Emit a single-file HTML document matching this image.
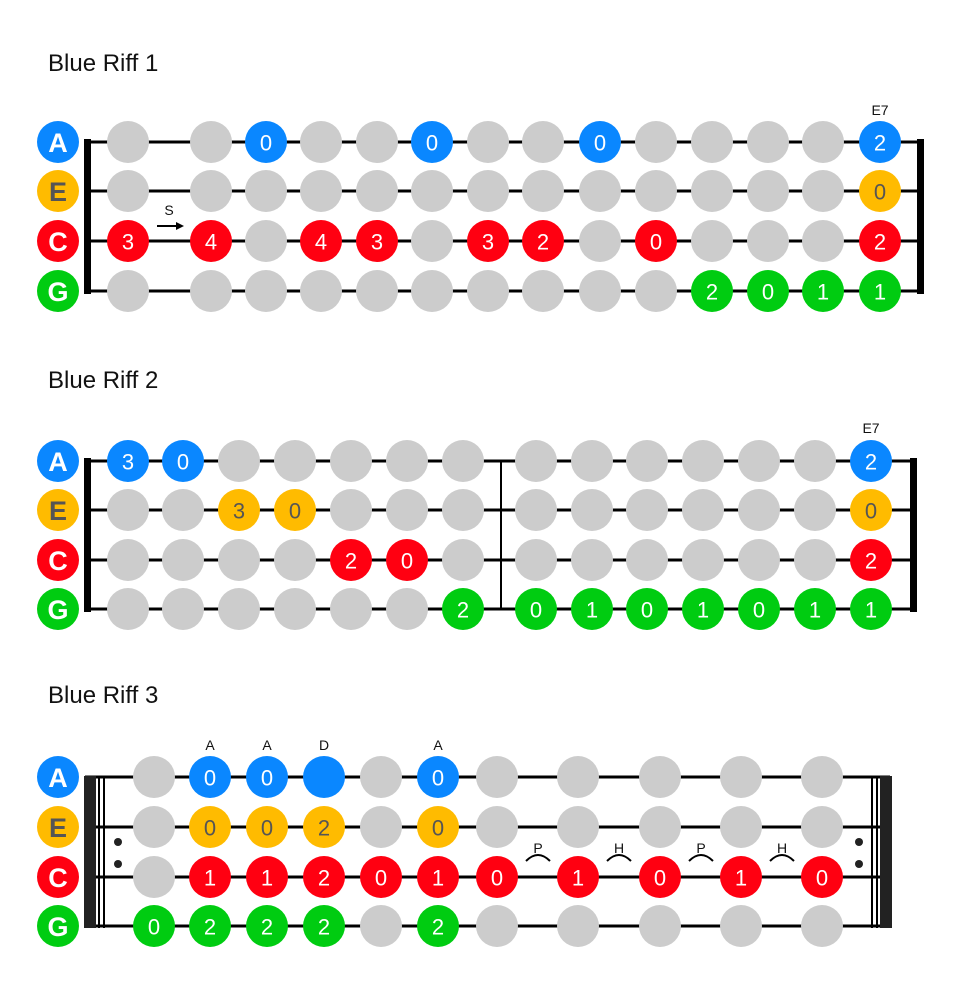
<!DOCTYPE html>
<html><head><meta charset="utf-8"><style>
html,body{margin:0;padding:0;background:#fff;}
svg{display:block}
.t{font-family:"Liberation Sans",sans-serif;font-size:24px;fill:#111}
.l{font-family:"Liberation Sans",sans-serif;font-size:27px;font-weight:bold;fill:#fff;text-anchor:middle;dominant-baseline:central}
.n{font-family:"Liberation Sans",sans-serif;font-size:22px;fill:#fff;text-anchor:middle;dominant-baseline:central}
.ny{font-family:"Liberation Sans",sans-serif;font-size:22px;fill:#555;text-anchor:middle;dominant-baseline:central}
.s{font-family:"Liberation Sans",sans-serif;font-size:14px;fill:#111;text-anchor:middle}
.g{fill:#cccccc}.b{fill:#0a87ff}.y{fill:#ffbb00}.r{fill:#ff0011}.gr{fill:#00cc11}
</style></head><body>
<svg width="962" height="988" viewBox="0 0 962 988" xmlns="http://www.w3.org/2000/svg">
<!-- ===== RIFF 1 ===== -->
<text class="t" x="48" y="71">Blue Riff 1</text>
<g stroke="#000" stroke-width="3">
<line x1="88" y1="142" x2="920" y2="142"/><line x1="88" y1="191" x2="920" y2="191"/>
<line x1="88" y1="241" x2="920" y2="241"/><line x1="88" y1="291" x2="920" y2="291"/>
</g>
<rect x="84" y="139" width="7" height="155" fill="#000"/>
<rect x="917" y="139" width="7" height="155" fill="#000"/>
<circle cx="58" cy="142" r="21" class="b"/><text class="l" x="58" y="143">A</text>
<circle cx="58" cy="191" r="21" class="y"/><text class="l" x="58" y="192" style="fill:#555">E</text>
<circle cx="58" cy="241" r="21" class="r"/><text class="l" x="58" y="242">C</text>
<circle cx="58" cy="291" r="21" class="gr"/><text class="l" x="58" y="292">G</text>
<g>
<!-- A -->
<circle cx="128" cy="142" r="21" class="g"/><circle cx="211" cy="142" r="21" class="g"/>
<circle cx="266" cy="142" r="21" class="b"/><circle cx="321" cy="142" r="21" class="g"/>
<circle cx="377" cy="142" r="21" class="g"/><circle cx="432" cy="142" r="21" class="b"/>
<circle cx="488" cy="142" r="21" class="g"/><circle cx="543" cy="142" r="21" class="g"/>
<circle cx="600" cy="142" r="21" class="b"/><circle cx="656" cy="142" r="21" class="g"/>
<circle cx="712" cy="142" r="21" class="g"/><circle cx="768" cy="142" r="21" class="g"/>
<circle cx="823" cy="142" r="21" class="g"/><circle cx="880" cy="142" r="21" class="b"/>
<text class="n" x="266" y="143">0</text><text class="n" x="432" y="143">0</text><text class="n" x="600" y="143">0</text><text class="n" x="880" y="143">2</text>
<text class="s" x="880" y="115">E7</text>
<!-- E -->
<circle cx="128" cy="191" r="21" class="g"/><circle cx="211" cy="191" r="21" class="g"/>
<circle cx="266" cy="191" r="21" class="g"/><circle cx="321" cy="191" r="21" class="g"/>
<circle cx="377" cy="191" r="21" class="g"/><circle cx="432" cy="191" r="21" class="g"/>
<circle cx="488" cy="191" r="21" class="g"/><circle cx="543" cy="191" r="21" class="g"/>
<circle cx="600" cy="191" r="21" class="g"/><circle cx="656" cy="191" r="21" class="g"/>
<circle cx="712" cy="191" r="21" class="g"/><circle cx="768" cy="191" r="21" class="g"/>
<circle cx="823" cy="191" r="21" class="g"/><circle cx="880" cy="191" r="21" class="y"/>
<text class="ny" x="880" y="192">0</text>
<!-- C -->
<circle cx="128" cy="241" r="21" class="r"/><circle cx="211" cy="241" r="21" class="r"/>
<circle cx="266" cy="241" r="21" class="g"/><circle cx="321" cy="241" r="21" class="r"/>
<circle cx="377" cy="241" r="21" class="r"/><circle cx="432" cy="241" r="21" class="g"/>
<circle cx="488" cy="241" r="21" class="r"/><circle cx="543" cy="241" r="21" class="r"/>
<circle cx="600" cy="241" r="21" class="g"/><circle cx="656" cy="241" r="21" class="r"/>
<circle cx="712" cy="241" r="21" class="g"/><circle cx="768" cy="241" r="21" class="g"/>
<circle cx="823" cy="241" r="21" class="g"/><circle cx="880" cy="241" r="21" class="r"/>
<text class="n" x="128" y="242">3</text><text class="n" x="211" y="242">4</text><text class="n" x="321" y="242">4</text><text class="n" x="377" y="242">3</text>
<text class="n" x="488" y="242">3</text><text class="n" x="543" y="242">2</text><text class="n" x="656" y="242">0</text><text class="n" x="880" y="242">2</text>
<text class="s" x="169" y="215">S</text>
<line x1="157" y1="226" x2="177" y2="226" stroke="#000" stroke-width="2"/>
<polygon points="184,226 176,222 176,230" fill="#000"/>
<!-- G -->
<circle cx="128" cy="291" r="21" class="g"/><circle cx="211" cy="291" r="21" class="g"/>
<circle cx="266" cy="291" r="21" class="g"/><circle cx="321" cy="291" r="21" class="g"/>
<circle cx="377" cy="291" r="21" class="g"/><circle cx="432" cy="291" r="21" class="g"/>
<circle cx="488" cy="291" r="21" class="g"/><circle cx="543" cy="291" r="21" class="g"/>
<circle cx="600" cy="291" r="21" class="g"/><circle cx="656" cy="291" r="21" class="g"/>
<circle cx="712" cy="291" r="21" class="gr"/><circle cx="768" cy="291" r="21" class="gr"/>
<circle cx="823" cy="291" r="21" class="gr"/><circle cx="880" cy="291" r="21" class="gr"/>
<text class="n" x="712" y="292">2</text><text class="n" x="768" y="292">0</text><text class="n" x="823" y="292">1</text><text class="n" x="880" y="292">1</text>
</g>

<!-- ===== RIFF 2 ===== -->
<text class="t" x="48" y="388">Blue Riff 2</text>
<g stroke="#000" stroke-width="3">
<line x1="88" y1="461" x2="913" y2="461"/><line x1="88" y1="510" x2="913" y2="510"/>
<line x1="88" y1="560" x2="913" y2="560"/><line x1="88" y1="609" x2="913" y2="609"/>
</g>
<line x1="501" y1="461" x2="501" y2="609" stroke="#000" stroke-width="2"/>
<rect x="84" y="458" width="7" height="154" fill="#000"/>
<rect x="910" y="458" width="7" height="154" fill="#000"/>
<circle cx="58" cy="461" r="21" class="b"/><text class="l" x="58" y="462">A</text>
<circle cx="58" cy="510" r="21" class="y"/><text class="l" x="58" y="511" style="fill:#555">E</text>
<circle cx="58" cy="560" r="21" class="r"/><text class="l" x="58" y="561">C</text>
<circle cx="58" cy="609" r="21" class="gr"/><text class="l" x="58" y="610">G</text>
<!-- A -->
<circle cx="128" cy="461" r="21" class="b"/><circle cx="183" cy="461" r="21" class="b"/>
<circle cx="239" cy="461" r="21" class="g"/><circle cx="295" cy="461" r="21" class="g"/>
<circle cx="351" cy="461" r="21" class="g"/><circle cx="407" cy="461" r="21" class="g"/>
<circle cx="463" cy="461" r="21" class="g"/><circle cx="536" cy="461" r="21" class="g"/>
<circle cx="592" cy="461" r="21" class="g"/><circle cx="647" cy="461" r="21" class="g"/>
<circle cx="703" cy="461" r="21" class="g"/><circle cx="759" cy="461" r="21" class="g"/>
<circle cx="815" cy="461" r="21" class="g"/><circle cx="871" cy="461" r="21" class="b"/>
<text class="n" x="128" y="462">3</text><text class="n" x="183" y="462">0</text><text class="n" x="871" y="462">2</text>
<text class="s" x="871" y="433">E7</text>
<!-- E -->
<circle cx="128" cy="510" r="21" class="g"/><circle cx="183" cy="510" r="21" class="g"/>
<circle cx="239" cy="510" r="21" class="y"/><circle cx="295" cy="510" r="21" class="y"/>
<circle cx="351" cy="510" r="21" class="g"/><circle cx="407" cy="510" r="21" class="g"/>
<circle cx="463" cy="510" r="21" class="g"/><circle cx="536" cy="510" r="21" class="g"/>
<circle cx="592" cy="510" r="21" class="g"/><circle cx="647" cy="510" r="21" class="g"/>
<circle cx="703" cy="510" r="21" class="g"/><circle cx="759" cy="510" r="21" class="g"/>
<circle cx="815" cy="510" r="21" class="g"/><circle cx="871" cy="510" r="21" class="y"/>
<text class="ny" x="239" y="511">3</text><text class="ny" x="295" y="511">0</text><text class="ny" x="871" y="511">0</text>
<!-- C -->
<circle cx="128" cy="560" r="21" class="g"/><circle cx="183" cy="560" r="21" class="g"/>
<circle cx="239" cy="560" r="21" class="g"/><circle cx="295" cy="560" r="21" class="g"/>
<circle cx="351" cy="560" r="21" class="r"/><circle cx="407" cy="560" r="21" class="r"/>
<circle cx="463" cy="560" r="21" class="g"/><circle cx="536" cy="560" r="21" class="g"/>
<circle cx="592" cy="560" r="21" class="g"/><circle cx="647" cy="560" r="21" class="g"/>
<circle cx="703" cy="560" r="21" class="g"/><circle cx="759" cy="560" r="21" class="g"/>
<circle cx="815" cy="560" r="21" class="g"/><circle cx="871" cy="560" r="21" class="r"/>
<text class="n" x="351" y="561">2</text><text class="n" x="407" y="561">0</text><text class="n" x="871" y="561">2</text>
<!-- G -->
<circle cx="128" cy="609" r="21" class="g"/><circle cx="183" cy="609" r="21" class="g"/>
<circle cx="239" cy="609" r="21" class="g"/><circle cx="295" cy="609" r="21" class="g"/>
<circle cx="351" cy="609" r="21" class="g"/><circle cx="407" cy="609" r="21" class="g"/>
<circle cx="463" cy="609" r="21" class="gr"/><circle cx="536" cy="609" r="21" class="gr"/>
<circle cx="592" cy="609" r="21" class="gr"/><circle cx="647" cy="609" r="21" class="gr"/>
<circle cx="703" cy="609" r="21" class="gr"/><circle cx="759" cy="609" r="21" class="gr"/>
<circle cx="815" cy="609" r="21" class="gr"/><circle cx="871" cy="609" r="21" class="gr"/>
<text class="n" x="463" y="610">2</text><text class="n" x="536" y="610">0</text><text class="n" x="592" y="610">1</text><text class="n" x="647" y="610">0</text>
<text class="n" x="703" y="610">1</text><text class="n" x="759" y="610">0</text><text class="n" x="815" y="610">1</text><text class="n" x="871" y="610">1</text>

<!-- ===== RIFF 3 ===== -->
<text class="t" x="48" y="703">Blue Riff 3</text>
<g stroke="#000" stroke-width="3">
<line x1="85" y1="777" x2="890" y2="777"/><line x1="85" y1="827" x2="890" y2="827"/>
<line x1="85" y1="877" x2="890" y2="877"/><line x1="85" y1="926" x2="890" y2="926"/>
</g>
<rect x="84" y="776" width="12" height="152" fill="#222"/>
<rect x="98" y="776" width="2" height="152" fill="#000"/>
<rect x="103" y="776" width="2" height="152" fill="#000"/>
<circle cx="118" cy="842" r="4" fill="#222"/><circle cx="118" cy="864" r="4" fill="#222"/>
<rect x="880" y="776" width="12" height="152" fill="#222"/>
<rect x="876" y="776" width="2" height="152" fill="#000"/>
<rect x="871" y="776" width="2" height="152" fill="#000"/>
<circle cx="859" cy="842" r="4" fill="#222"/><circle cx="859" cy="864" r="4" fill="#222"/>
<circle cx="58" cy="777" r="21" class="b"/><text class="l" x="58" y="778">A</text>
<circle cx="58" cy="827" r="21" class="y"/><text class="l" x="58" y="828" style="fill:#555">E</text>
<circle cx="58" cy="877" r="21" class="r"/><text class="l" x="58" y="878">C</text>
<circle cx="58" cy="926" r="21" class="gr"/><text class="l" x="58" y="927">G</text>
<!-- A -->
<circle cx="154" cy="777" r="21" class="g"/><circle cx="210" cy="777" r="21" class="b"/>
<circle cx="267" cy="777" r="21" class="b"/><circle cx="324" cy="777" r="21" class="b"/>
<circle cx="381" cy="777" r="21" class="g"/><circle cx="438" cy="777" r="21" class="b"/>
<circle cx="497" cy="777" r="21" class="g"/><circle cx="578" cy="777" r="21" class="g"/>
<circle cx="660" cy="777" r="21" class="g"/><circle cx="741" cy="777" r="21" class="g"/>
<circle cx="822" cy="777" r="21" class="g"/>
<text class="n" x="210" y="778">0</text><text class="n" x="267" y="778">0</text><text class="n" x="438" y="778">0</text>
<text class="s" x="210" y="750">A</text><text class="s" x="267" y="750">A</text><text class="s" x="324" y="750">D</text><text class="s" x="438" y="750">A</text>
<!-- E -->
<circle cx="154" cy="827" r="21" class="g"/><circle cx="210" cy="827" r="21" class="y"/>
<circle cx="267" cy="827" r="21" class="y"/><circle cx="324" cy="827" r="21" class="y"/>
<circle cx="381" cy="827" r="21" class="g"/><circle cx="438" cy="827" r="21" class="y"/>
<circle cx="497" cy="827" r="21" class="g"/><circle cx="578" cy="827" r="21" class="g"/>
<circle cx="660" cy="827" r="21" class="g"/><circle cx="741" cy="827" r="21" class="g"/>
<circle cx="822" cy="827" r="21" class="g"/>
<text class="ny" x="210" y="828">0</text><text class="ny" x="267" y="828">0</text><text class="ny" x="324" y="828">2</text><text class="ny" x="438" y="828">0</text>
<!-- C -->
<circle cx="154" cy="877" r="21" class="g"/><circle cx="210" cy="877" r="21" class="r"/>
<circle cx="267" cy="877" r="21" class="r"/><circle cx="324" cy="877" r="21" class="r"/>
<circle cx="381" cy="877" r="21" class="r"/><circle cx="438" cy="877" r="21" class="r"/>
<circle cx="497" cy="877" r="21" class="r"/><circle cx="578" cy="877" r="21" class="r"/>
<circle cx="660" cy="877" r="21" class="r"/><circle cx="741" cy="877" r="21" class="r"/>
<circle cx="822" cy="877" r="21" class="r"/>
<text class="n" x="210" y="878">1</text><text class="n" x="267" y="878">1</text><text class="n" x="324" y="878">2</text><text class="n" x="381" y="878">0</text>
<text class="n" x="438" y="878">1</text><text class="n" x="497" y="878">0</text><text class="n" x="578" y="878">1</text><text class="n" x="660" y="878">0</text>
<text class="n" x="741" y="878">1</text><text class="n" x="822" y="878">0</text>
<g fill="none" stroke="#000" stroke-width="2">
<path d="M526,861 Q538,849 550,861"/><path d="M607,861 Q619,849 631,861"/>
<path d="M689,861 Q701,849 713,861"/><path d="M770,861 Q782,849 794,861"/>
</g>
<text class="s" x="538" y="853">P</text><text class="s" x="619" y="853">H</text>
<text class="s" x="701" y="853">P</text><text class="s" x="782" y="853">H</text>
<!-- G -->
<circle cx="154" cy="926" r="21" class="gr"/><circle cx="210" cy="926" r="21" class="gr"/>
<circle cx="267" cy="926" r="21" class="gr"/><circle cx="324" cy="926" r="21" class="gr"/>
<circle cx="381" cy="926" r="21" class="g"/><circle cx="438" cy="926" r="21" class="gr"/>
<circle cx="497" cy="926" r="21" class="g"/><circle cx="578" cy="926" r="21" class="g"/>
<circle cx="660" cy="926" r="21" class="g"/><circle cx="741" cy="926" r="21" class="g"/>
<circle cx="822" cy="926" r="21" class="g"/>
<text class="n" x="154" y="927">0</text><text class="n" x="210" y="927">2</text><text class="n" x="267" y="927">2</text><text class="n" x="324" y="927">2</text><text class="n" x="438" y="927">2</text>
</svg>
</body></html>
